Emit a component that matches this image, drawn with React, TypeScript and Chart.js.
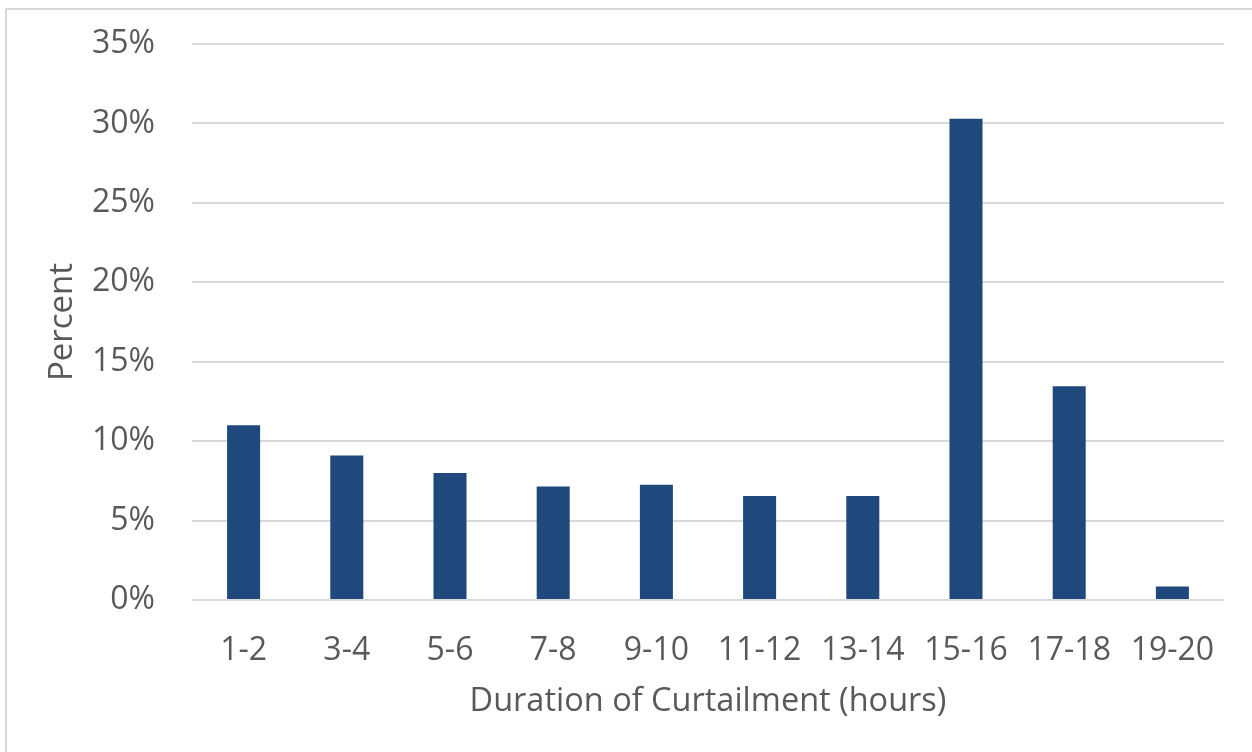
import React, { useEffect, useRef } from "react";
import { Chart, registerables } from "chart.js";

Chart.register(...registerables);

const categories = ["1-2", "3-4", "5-6", "7-8", "9-10", "11-12", "13-14", "15-16", "17-18", "19-20"];
const percentValues = [11.0, 9.1, 8.0, 7.15, 7.25, 6.55, 6.55, 30.3, 13.45, 0.85];
const yTickMax = 35;
const yTickStep = 5;
const xAxisTitle = "Duration of Curtailment (hours)";
const yAxisTitle = "Percent";

const FONT = "'Open Sans', sans-serif";
const TEXT = "#595959";

export default function App() {
  const ref = useRef<HTMLCanvasElement | null>(null);

  useEffect(() => {
    if (!ref.current) return;
    const chart = new Chart(ref.current, {
      type: "bar",
      data: {
        labels: categories,
        datasets: [
          {
            data: percentValues,
            backgroundColor: "#1F497D",
            categoryPercentage: 1,
            barPercentage: 0.32,
          },
        ],
      },
      options: {
        animation: false,
        responsive: false,
        maintainAspectRatio: false,
        layout: { padding: { left: 0, right: 28, top: 44, bottom: 0 } },
        plugins: { legend: { display: false }, tooltip: { enabled: false } },
        scales: {
          x: {
            grid: { display: false },
            border: { display: false },
            ticks: {
              color: TEXT,
              font: { family: FONT, size: 32 },
              padding: 24,
              maxRotation: 0,
              autoSkip: false,
            },
            title: {
              display: true,
              text: xAxisTitle,
              color: TEXT,
              font: { family: FONT, size: 32.5 },
              padding: { top: 0, bottom: 31 },
            },
            afterFit: (s: any) => {
              s.height = 152;
              s.paddingLeft = 0;
              s.paddingRight = 0;
            },
          },
          y: {
            min: 0,
            max: yTickMax,
            grid: { color: "#D9D9D9", lineWidth: 2, drawTicks: false },
            border: { display: false },
            ticks: {
              stepSize: yTickStep,
              color: TEXT,
              font: { family: FONT, size: 32 },
              padding: 37,
              callback: (v: any) => `${v}%`,
            },
            title: {
              display: true,
              text: yAxisTitle,
              color: TEXT,
              font: { family: FONT, size: 33 },
              padding: { top: 43, bottom: 0 },
            },
            afterFit: (s: any) => {
              s.width = 192;
              s.paddingTop = 0;
              s.paddingBottom = 0;
            },
          },
        },
      },
    });
    return () => chart.destroy();
  }, []);

  return (
    <div style={{ position: "fixed", left: 0, top: 0, width: 1252, height: 752, background: "#fff" }}>
      <div
        style={{
          position: "absolute",
          left: 5,
          top: 8,
          width: 1300,
          height: 800,
          border: "2px solid #D9D9D9",
          boxSizing: "border-box",
        }}
      />
      <canvas ref={ref} width={1252} height={752} style={{ position: "absolute", left: 0, top: 0 }} />
    </div>
  );
}
